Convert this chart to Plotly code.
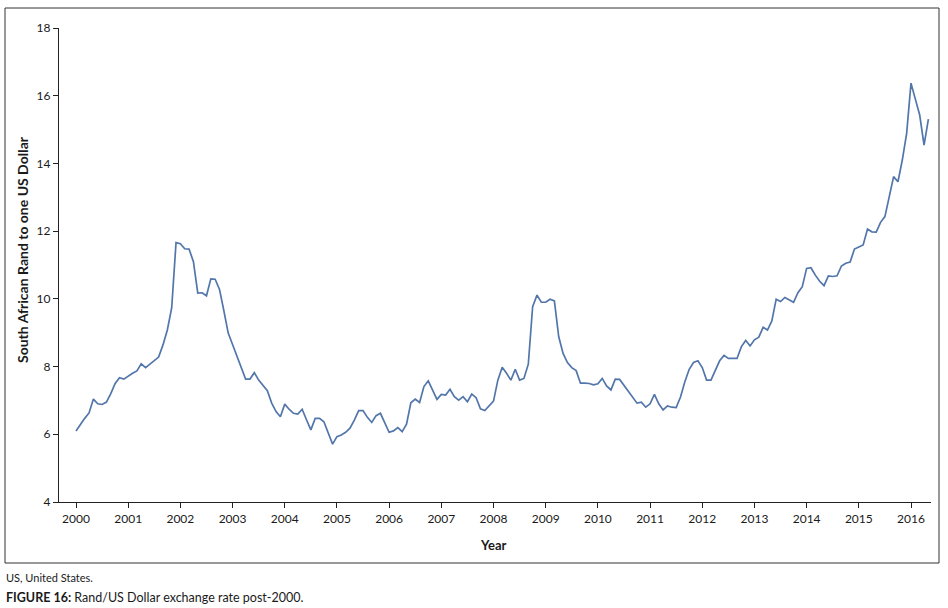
import plotly.graph_objects as go

# Monthly USD/ZAR, Jan 2000 .. May 2016
y2000 = [6.10, 6.30, 6.47, 6.63, 7.04, 6.90, 6.88, 6.95, 7.20, 7.50, 7.67, 7.63]
y2001 = [7.72, 7.80, 7.87, 8.08, 7.97, 8.08, 8.19, 8.28, 8.64, 9.08, 9.73, 11.66]
y2002 = [11.63, 11.48, 11.47, 11.10, 10.17, 10.18, 10.09, 10.59, 10.58, 10.28, 9.65, 8.99]
y2003 = [8.65, 8.30, 7.97, 7.63, 7.63, 7.82, 7.60, 7.43, 7.29, 6.92, 6.67, 6.52]
y2004 = [6.89, 6.74, 6.62, 6.60, 6.74, 6.43, 6.13, 6.47, 6.47, 6.37, 6.05, 5.71]
y2005 = [5.93, 5.98, 6.06, 6.18, 6.42, 6.70, 6.70, 6.50, 6.35, 6.55, 6.62, 6.35]
y2006 = [6.06, 6.10, 6.20, 6.08, 6.30, 6.93, 7.04, 6.94, 7.41, 7.58, 7.31, 7.03]
y2007 = [7.18, 7.16, 7.33, 7.11, 7.01, 7.11, 6.96, 7.19, 7.08, 6.75, 6.70, 6.84]
y2008 = [6.98, 7.60, 7.98, 7.80, 7.60, 7.92, 7.60, 7.65, 8.07, 9.77, 10.11, 9.90]
y2009 = [9.90, 9.99, 9.94, 8.88, 8.39, 8.12, 7.97, 7.88, 7.51, 7.51, 7.50, 7.46]
y2010 = [7.49, 7.65, 7.43, 7.31, 7.63, 7.62, 7.45, 7.27, 7.10, 6.92, 6.95, 6.80]
y2011 = [6.90, 7.18, 6.90, 6.72, 6.84, 6.80, 6.79, 7.10, 7.55, 7.92, 8.12, 8.17]
y2012 = [7.97, 7.60, 7.60, 7.90, 8.17, 8.33, 8.24, 8.24, 8.24, 8.59, 8.77, 8.61]
y2013 = [8.79, 8.87, 9.16, 9.08, 9.35, 9.99, 9.92, 10.04, 9.97, 9.90, 10.18, 10.36]
y2014 = [10.90, 10.92, 10.70, 10.52, 10.39, 10.68, 10.66, 10.68, 10.97, 11.05, 11.09, 11.47]
y2015 = [11.53, 11.59, 12.06, 11.98, 11.97, 12.26, 12.43, 13.02, 13.61, 13.46, 14.10, 14.89]
y2016 = [16.37, 15.90, 15.43, 14.54, 15.31]

rates = (y2000 + y2001 + y2002 + y2003 + y2004 + y2005 + y2006 + y2007 + y2008
         + y2009 + y2010 + y2011 + y2012 + y2013 + y2014 + y2015 + y2016)
start_year = 2000
dates = [start_year + i / 12 for i in range(len(rates))]

x_ticks = list(range(2000, 2017))
y_ticks = [4, 6, 8, 10, 12, 14, 16, 18]

y_title = "South African Rand to one US Dollar"
x_title = "Year"
note = "US, United States."
caption = "<b>FIGURE 16:</b> Rand/US Dollar exchange rate post-2000."

FONT = "Lato"
W, H = 948, 608
L, R, T, B = 59, 17, 28, 106
pw, ph = W - L - R, H - T - B


def px(x):
    return (x - L) / pw


def py(y):
    return (H - B - y) / ph


fig = go.Figure()
fig.add_trace(go.Scatter(x=dates, y=rates, mode="lines",
                         line=dict(color="#5276aa", width=1.7),
                         showlegend=False, hoverinfo="x+y"))

fig.update_layout(
    width=W, height=H,
    margin=dict(l=L, r=R, t=T, b=B),
    paper_bgcolor="white", plot_bgcolor="white",
    font=dict(family=FONT, size=12, color="#1a1a1a"),
    xaxis=dict(range=[2000 - 17 / 52.19, 2016 + 20 / 52.19],
               tickmode="array", tickvals=x_ticks, ticktext=[str(v) for v in x_ticks],
               showline=True, linecolor="#222", linewidth=1.2,
               ticks="outside", ticklen=5, tickcolor="#222", tickwidth=1.2,
               showgrid=False, zeroline=False,
               tickfont=dict(family=FONT, size=12, color="#1a1a1a")),
    yaxis=dict(range=[4, 18],
               tickmode="array", tickvals=y_ticks, ticktext=[str(v) for v in y_ticks],
               showline=True, linecolor="#222", linewidth=1.2,
               ticks="outside", ticklen=5, tickcolor="#222", tickwidth=1.2,
               showgrid=False, zeroline=False,
               tickfont=dict(family=FONT, size=12, color="#1a1a1a")),
)

# outer frame
fig.add_shape(type="rect", xref="paper", yref="paper",
              x0=px(5), x1=px(939), y0=py(563), y1=py(8),
              line=dict(color="#333", width=1), layer="below")

fig.add_annotation(text=f"<b>{y_title}</b>", xref="paper", yref="paper",
                   x=px(22), y=py(250), textangle=-90, showarrow=False,
                   font=dict(family=FONT, size=14, color="#1a1a1a"),
                   xanchor="center", yanchor="middle")
fig.add_annotation(text=f"<b>{x_title}</b>", xref="paper", yref="paper",
                   x=px(493), y=py(545), showarrow=False,
                   font=dict(family=FONT, size=13, color="#1a1a1a"),
                   xanchor="center", yanchor="middle")
fig.add_annotation(text=note, xref="paper", yref="paper",
                   x=px(4), y=py(577), showarrow=False,
                   font=dict(family=FONT, size=11, color="#1a1a1a"),
                   xanchor="left", yanchor="middle")
fig.add_annotation(text=caption, xref="paper", yref="paper",
                   x=px(4), y=py(597), showarrow=False,
                   font=dict(family=FONT, size=12.5, color="#1a1a1a"),
                   xanchor="left", yanchor="middle")

fig.write_html("out.html",
               config={"displayModeBar": False},
               post_script="document.body.style.margin='0';document.body.style.padding='0';document.body.style.overflow='hidden';")
